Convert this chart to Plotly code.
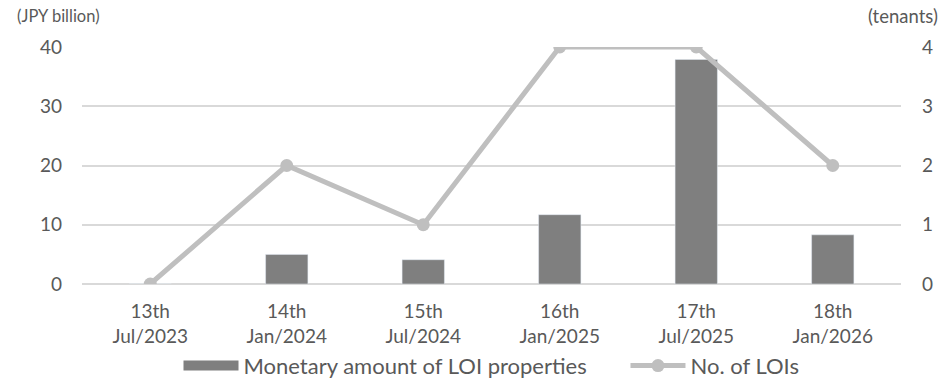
import plotly.graph_objects as go

periods = ["13th<br>Jul/2023", "14th<br>Jan/2024", "15th<br>Jul/2024",
           "16th<br>Jan/2025", "17th<br>Jul/2025", "18th<br>Jan/2026"]
monetary_amount = [0, 5.0, 4.1, 11.7, 37.9, 8.3]
num_lois = [0, 2, 1, 4, 4, 2]

bar_name = "Monetary amount of LOI properties"
line_name = "No. of LOIs"

FONT = "Lato"
TXT = "#595959"
BAR_C = "#7f7f7f"
LINE_C = "#bfbfbf"
GRID = "#d9d9d9"

fig = go.Figure()
fig.add_trace(go.Bar(x=periods, y=monetary_amount, name=bar_name, marker_color=BAR_C,
                     width=0.31, showlegend=False, yaxis="y"))
# legend proxy for the bar series (wide rectangle symbol); nbsp padding for spacing
fig.add_trace(go.Scatter(x=[None], y=[None], mode="lines", name=bar_name + "\u00a0" * 6,
                         line=dict(color=BAR_C, width=15), yaxis="y"))
fig.add_trace(go.Scatter(x=periods, y=num_lois, name=line_name, mode="lines+markers",
                         line=dict(color=LINE_C, width=5),
                         marker=dict(color=LINE_C, size=13), yaxis="y2"))

fig.update_layout(
    width=947, height=378,
    margin=dict(l=82, r=46, t=47, b=94, autoexpand=False),
    paper_bgcolor="white", plot_bgcolor="white",
    font=dict(family=FONT, size=18, color=TXT),
    xaxis=dict(type="category", showgrid=False, showline=False, ticks="",
               automargin=False, ticklabelstandoff=14, tickfont=dict(size=19, color=TXT)),
    yaxis=dict(range=[0, 40], dtick=10, showgrid=True, gridcolor=GRID, gridwidth=2,
               zeroline=True, zerolinecolor=GRID, zerolinewidth=2, showline=False,
               automargin=False, ticks="", ticklabelstandoff=19,
               tickfont=dict(size=19, color=TXT)),
    yaxis2=dict(range=[0, 4], dtick=1, overlaying="y", side="right", showgrid=False,
                zeroline=False, showline=False, ticks="", ticklabelstandoff=20,
                automargin=False, tickfont=dict(size=19, color=TXT)),
    legend=dict(orientation="h", x=0.5, xanchor="center", y=-0.345, yanchor="middle",
                itemwidth=55, font=dict(size=22, color=TXT),
                tracegroupgap=0, bgcolor="rgba(0,0,0,0)"),
    annotations=[
        dict(text="(JPY billion)", xref="paper", yref="paper", x=-0.082, y=1.13,
             xanchor="left", yanchor="middle", showarrow=False,
             font=dict(size=16.5, color=TXT)),
        dict(text="(tenants)", xref="paper", yref="paper", x=1.048, y=1.13,
             xanchor="right", yanchor="middle", showarrow=False,
             font=dict(size=18.5, color=TXT)),
    ],
)

fig.write_html("out.html")
